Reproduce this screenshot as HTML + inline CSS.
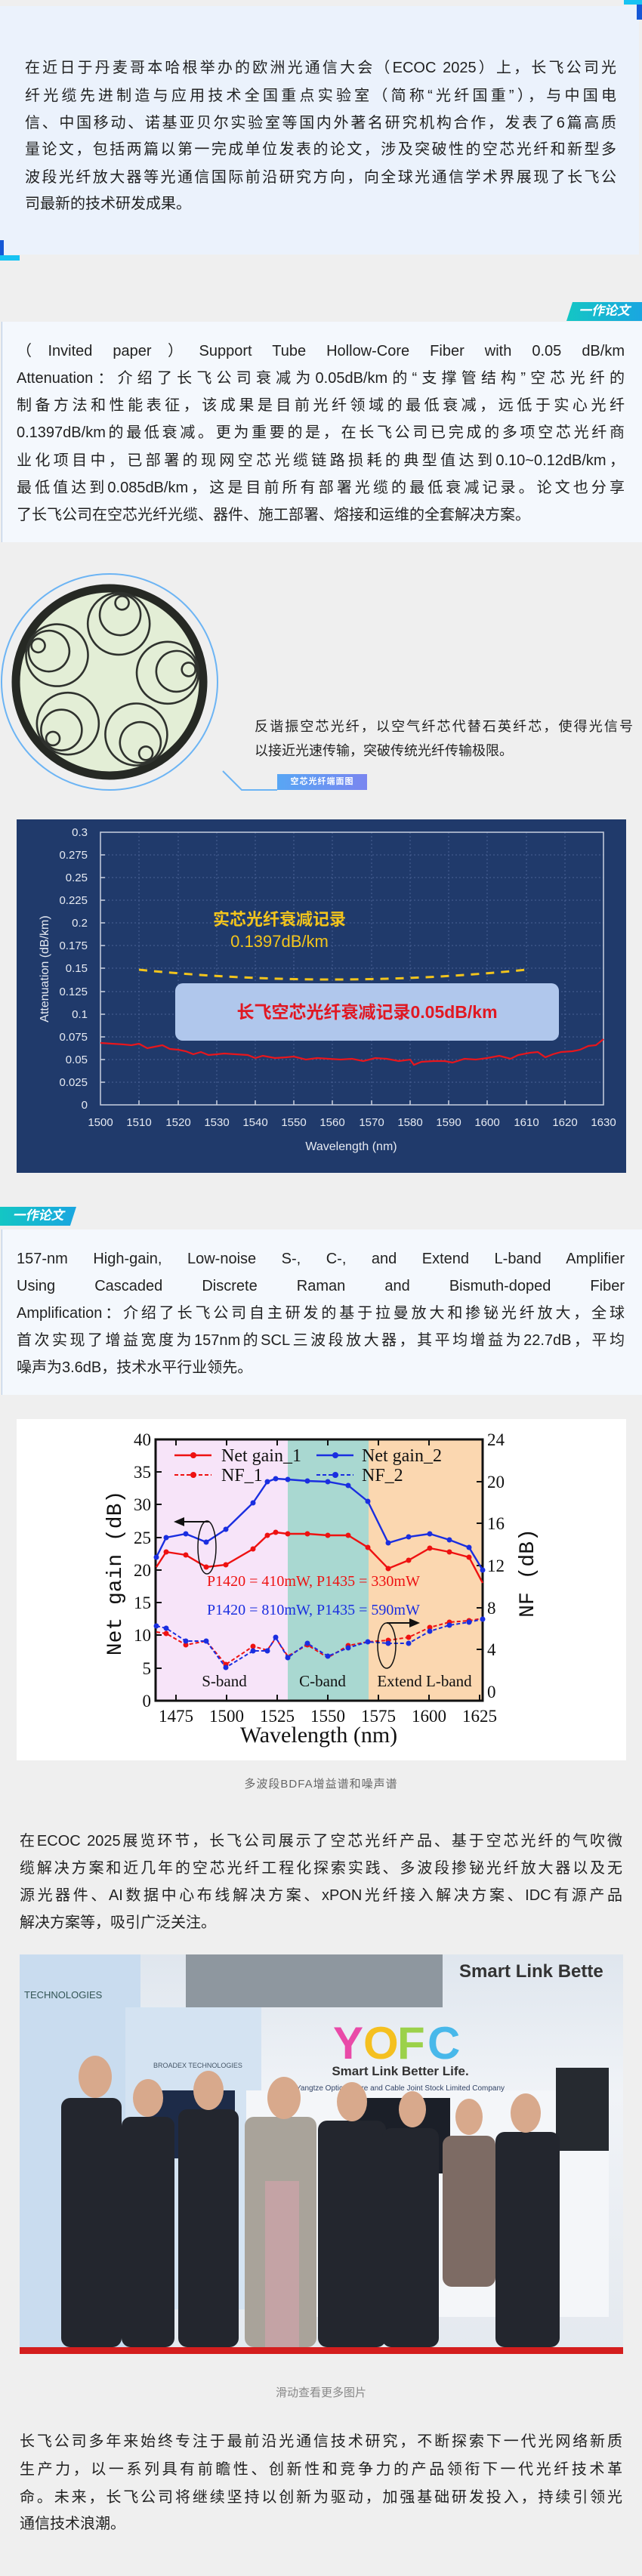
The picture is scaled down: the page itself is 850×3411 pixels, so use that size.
<!DOCTYPE html>
<html><head><meta charset="utf-8">
<style>
*{margin:0;padding:0;box-sizing:border-box}
body{width:850px;height:3411px;position:relative;background:#efefef;font-family:"Liberation Sans","Noto Sans CJK SC",sans-serif;color:#222;overflow:hidden}
.ab{position:absolute}
.ln{position:absolute;font-size:20px;line-height:28px;height:28px;text-align:justify;text-align-last:justify;white-space:nowrap;overflow:visible}
.ln.l{text-align-last:left}
.badge{position:absolute;color:#fff;font-weight:bold;font-style:italic;font-size:17px;line-height:24px;text-align:center}
</style></head><body>

<!-- section 1 -->
<div class="ab" style="left:0;top:8px;width:846px;height:329px;background:#ebf2fc"></div>
<div class="ab" style="left:843px;top:0;width:7px;height:26px;background:#1558d6"></div>
<div class="ab" style="left:826px;top:0;width:24px;height:6px;background:#17c3f3"></div>
<div class="ab" style="left:0;top:318px;width:5px;height:24px;background:#1558d6"></div>
<div class="ab" style="left:0;top:338px;width:26px;height:7px;background:#17c3f3"></div>
<div class="ln" style="left:33px;width:783px;top:76px">在近日于丹麦哥本哈根举办的欧洲光通信大会（ECOC 2025）上，长飞公司光</div>
<div class="ln" style="left:33px;width:783px;top:113px">纤光缆先进制造与应用技术全国重点实验室（简称“光纤国重”），与中国电</div>
<div class="ln" style="left:33px;width:783px;top:149px">信、中国移动、诺基亚贝尔实验室等国内外著名研究机构合作，发表了6篇高质</div>
<div class="ln" style="left:33px;width:783px;top:184px">量论文，包括两篇以第一完成单位发表的论文，涉及突破性的空芯光纤和新型多</div>
<div class="ln" style="left:33px;width:783px;top:221px">波段光纤放大器等光通信国际前沿研究方向，向全球光通信学术界展现了长飞公</div>
<div class="ln l" style="left:33px;width:783px;top:256px">司最新的技术研发成果。</div>

<!-- section 2 -->
<div class="badge" style="left:750px;top:400px;width:100px;height:25px;background:linear-gradient(90deg,#14c6c4,#1aa6e0);clip-path:polygon(8% 0,100% 0,100% 100%,0 100%)">一作论文</div>
<div class="ab" style="left:2px;top:426px;width:848px;height:292px;background:#f4f8fd;border-left:1px solid #b8cde8"></div>
<div class="ln" style="left:22px;width:805px;top:451px">（Invited paper）Support Tube Hollow-Core Fiber with 0.05 dB/km</div>
<div class="ln" style="left:22px;width:805px;top:487px">Attenuation：介绍了长飞公司衰减为0.05dB/km的“支撑管结构”空芯光纤的</div>
<div class="ln" style="left:22px;width:805px;top:523px">制备方法和性能表征，该成果是目前光纤领域的最低衰减，远低于实心光纤</div>
<div class="ln" style="left:22px;width:805px;top:559px">0.1397dB/km的最低衰减。更为重要的是，在长飞公司已完成的多项空芯光纤商</div>
<div class="ln" style="left:22px;width:805px;top:596px">业化项目中，已部署的现网空芯光缆链路损耗的典型值达到0.10~0.12dB/km，</div>
<div class="ln" style="left:22px;width:805px;top:632px">最低值达到0.085dB/km，这是目前所有部署光缆的最低衰减记录。论文也分享</div>
<div class="ln l" style="left:22px;width:805px;top:668px">了长飞公司在空芯光纤光缆、器件、施工部署、熔接和运维的全套解决方案。</div>

<!-- fiber image -->
<svg class="ab" style="left:0;top:740px" width="850" height="320" viewBox="0 740 850 320">
 <circle cx="145" cy="903" r="143" fill="none" stroke="#6cb4f4" stroke-width="2"/>
 <circle cx="145" cy="903" r="124" fill="#e3eed6" stroke="#262924" stroke-width="11"/>
 <g fill="none" stroke="#2f322e" stroke-width="2.6">
  <g transform="translate(145,903) rotate(-81)">
   <circle cx="78" cy="0" r="41"/><circle cx="90" cy="0" r="27"/><circle cx="106" cy="0" r="9"/>
  </g>
  <g transform="translate(145,903) rotate(-9)">
   <circle cx="78" cy="0" r="41"/><circle cx="90" cy="0" r="27"/><circle cx="106" cy="0" r="9"/>
  </g>
  <g transform="translate(145,903) rotate(63)">
   <circle cx="78" cy="0" r="41"/><circle cx="90" cy="0" r="27"/><circle cx="106" cy="0" r="9"/>
  </g>
  <g transform="translate(145,903) rotate(135)">
   <circle cx="78" cy="0" r="41"/><circle cx="90" cy="0" r="27"/><circle cx="106" cy="0" r="9"/>
  </g>
  <g transform="translate(145,903) rotate(207)">
   <circle cx="78" cy="0" r="41"/><circle cx="90" cy="0" r="27"/><circle cx="106" cy="0" r="9"/>
  </g>
 </g>
 <polyline points="295,1021 320,1046 367,1046" fill="none" stroke="#6cb4f4" stroke-width="2"/>
</svg>
<div class="ab" style="left:337px;top:948px;width:501px;font-size:18px;line-height:28px;text-align:justify;text-align-last:justify;white-space:nowrap">反谐振空芯光纤，以空气纤芯代替石英纤芯，使得光信号</div>
<div class="ab" style="left:337px;top:980px;font-size:18px;line-height:28px;white-space:nowrap">以接近光速传输，突破传统光纤传输极限。</div>
<div class="ab" style="left:367px;top:1025px;width:119px;height:21px;background:linear-gradient(90deg,#58a6f4,#7a86f0);color:#fff;font-size:11px;line-height:21px;text-align:center;font-weight:bold;letter-spacing:1px">空芯光纤端面图</div>

<!-- chart 1 -->
<svg class="ab" style="left:0;top:1080px" width="850" height="480" viewBox="0 1080 850 480" font-family="Liberation Sans Narrow, Liberation Sans, Noto Sans CJK SC, sans-serif">
 <rect x="22" y="1085" width="807" height="468" fill="#203a6b"/>
 <g stroke="#4a6296" stroke-width="1" stroke-dasharray="2,3">
  <line x1="133" y1="1433" x2="799" y2="1433"/><line x1="133" y1="1403" x2="799" y2="1403"/><line x1="133" y1="1373" x2="799" y2="1373"/><line x1="133" y1="1343" x2="799" y2="1343"/><line x1="133" y1="1313" x2="799" y2="1313"/><line x1="133" y1="1282" x2="799" y2="1282"/><line x1="133" y1="1252" x2="799" y2="1252"/><line x1="133" y1="1222" x2="799" y2="1222"/><line x1="133" y1="1192" x2="799" y2="1192"/><line x1="133" y1="1162" x2="799" y2="1162"/><line x1="133" y1="1132" x2="799" y2="1132"/>
  <line x1="184" y1="1102" x2="184" y2="1463"/><line x1="236" y1="1102" x2="236" y2="1463"/><line x1="287" y1="1102" x2="287" y2="1463"/><line x1="338" y1="1102" x2="338" y2="1463"/><line x1="389" y1="1102" x2="389" y2="1463"/><line x1="440" y1="1102" x2="440" y2="1463"/><line x1="492" y1="1102" x2="492" y2="1463"/><line x1="543" y1="1102" x2="543" y2="1463"/><line x1="594" y1="1102" x2="594" y2="1463"/><line x1="645" y1="1102" x2="645" y2="1463"/><line x1="697" y1="1102" x2="697" y2="1463"/><line x1="748" y1="1102" x2="748" y2="1463"/>
 </g>
 <rect x="133" y="1102" width="666" height="361" fill="none" stroke="#c8d0e0" stroke-width="1.5"/>
 <g stroke="#c8d0e0" stroke-width="1.5">
  <line x1="133" y1="1433" x2="139" y2="1433"/><line x1="133" y1="1403" x2="139" y2="1403"/><line x1="133" y1="1373" x2="139" y2="1373"/><line x1="133" y1="1343" x2="139" y2="1343"/><line x1="133" y1="1313" x2="139" y2="1313"/><line x1="133" y1="1282" x2="139" y2="1282"/><line x1="133" y1="1252" x2="139" y2="1252"/><line x1="133" y1="1222" x2="139" y2="1222"/><line x1="133" y1="1192" x2="139" y2="1192"/><line x1="133" y1="1162" x2="139" y2="1162"/><line x1="133" y1="1132" x2="139" y2="1132"/>
  <line x1="184" y1="1463" x2="184" y2="1457"/><line x1="236" y1="1463" x2="236" y2="1457"/><line x1="287" y1="1463" x2="287" y2="1457"/><line x1="338" y1="1463" x2="338" y2="1457"/><line x1="389" y1="1463" x2="389" y2="1457"/><line x1="440" y1="1463" x2="440" y2="1457"/><line x1="492" y1="1463" x2="492" y2="1457"/><line x1="543" y1="1463" x2="543" y2="1457"/><line x1="594" y1="1463" x2="594" y2="1457"/><line x1="645" y1="1463" x2="645" y2="1457"/><line x1="697" y1="1463" x2="697" y2="1457"/><line x1="748" y1="1463" x2="748" y2="1457"/>
 </g>
 <g fill="#e6eaf2" font-size="15" text-anchor="end">
  <text x="116" y="1468">0</text><text x="116" y="1438">0.025</text><text x="116" y="1408">0.05</text><text x="116" y="1378">0.075</text><text x="116" y="1348">0.1</text><text x="116" y="1318">0.125</text><text x="116" y="1287">0.15</text><text x="116" y="1257">0.175</text><text x="116" y="1227">0.2</text><text x="116" y="1197">0.225</text><text x="116" y="1167">0.25</text><text x="116" y="1137">0.275</text><text x="116" y="1107">0.3</text>
 </g>
 <g fill="#e6eaf2" font-size="15" text-anchor="middle">
  <text x="133" y="1491">1500</text><text x="184" y="1491">1510</text><text x="236" y="1491">1520</text><text x="287" y="1491">1530</text><text x="338" y="1491">1540</text><text x="389" y="1491">1550</text><text x="440" y="1491">1560</text><text x="492" y="1491">1570</text><text x="543" y="1491">1580</text><text x="594" y="1491">1590</text><text x="645" y="1491">1600</text><text x="697" y="1491">1610</text><text x="748" y="1491">1620</text><text x="799" y="1491">1630</text>
  <text x="465" y="1523" font-size="16">Wavelength (nm)</text>
  <text transform="translate(64,1283) rotate(-90)" font-size="16" font-family="Liberation Sans, sans-serif">Attenuation (dB/km)</text>
 </g>
 <path d="M184,1284 Q440,1310 697,1284" fill="none" stroke="#f2c41c" stroke-width="3" stroke-dasharray="11,9"/>
 <text x="370" y="1225" fill="#f2c41c" font-size="22" text-anchor="middle" font-weight="bold">实芯光纤衰减记录</text>
 <text x="370" y="1254" fill="#f2c41c" font-size="22" text-anchor="middle">0.1397dB/km</text>
 <rect x="232" y="1302" width="508" height="76" rx="10" fill="#b0c7ec"/>
 <text x="486" y="1348" fill="#e01822" font-size="23" text-anchor="middle" font-weight="bold">长飞空芯光纤衰减记录0.05dB/km</text>
 <polyline fill="none" stroke="#e8161c" stroke-width="2.2" points="133,1381 148,1382 164,1383 174,1384 184,1382 195,1388 205,1386 215,1384 225,1389 236,1390 246,1392 256,1396 266,1393 276,1397 287,1396 297,1395 312,1396 328,1397 338,1401 348,1398 364,1401 379,1400 389,1399 405,1403 420,1401 435,1402 451,1403 466,1402 481,1405 497,1401 512,1402 528,1405 543,1403 548,1410 558,1406 574,1405 589,1405 599,1407 615,1402 630,1403 645,1401 661,1398 676,1402 686,1397 702,1394 712,1393 722,1400 732,1396 743,1393 758,1392 768,1390 779,1385 789,1384 799,1376"/>
</svg>

<!-- section 3 -->
<div class="badge" style="left:0;top:1598px;width:101px;height:25px;background:linear-gradient(90deg,#14c6c4,#1aa6e0);clip-path:polygon(0 0,100% 0,92% 100%,0 100%)">一作论文</div>
<div class="ab" style="left:2px;top:1628px;width:848px;height:219px;background:#f4f8fd;border-left:1px solid #b8cde8"></div>
<div class="ln" style="left:22px;width:805px;top:1653px">157-nm High-gain, Low-noise S-, C-, and Extend L-band Amplifier</div>
<div class="ln" style="left:22px;width:805px;top:1689px">Using Cascaded Discrete Raman and Bismuth-doped Fiber</div>
<div class="ln" style="left:22px;width:805px;top:1725px">Amplification：介绍了长飞公司自主研发的基于拉曼放大和掺铋光纤放大，全球</div>
<div class="ln" style="left:22px;width:805px;top:1761px">首次实现了增益宽度为157nm的SCL三波段放大器，其平均增益为22.7dB，平均</div>
<div class="ln l" style="left:22px;width:805px;top:1797px">噪声为3.6dB，技术水平行业领先。</div>

<!-- chart 2 -->
<svg class="ab" style="left:0;top:1875px" width="850" height="460" viewBox="0 1875 850 460" font-family="Liberation Serif, serif">
 <rect x="22" y="1879" width="807" height="452" fill="#ffffff"/>
 <rect x="206" y="1906" width="175" height="346" fill="#f7e4f9"/>
 <rect x="381" y="1906" width="107" height="346" fill="#a9d8d1"/>
 <rect x="488" y="1906" width="151" height="346" fill="#fbd7b0"/>
 <rect x="206" y="1906" width="433" height="346" fill="none" stroke="#111" stroke-width="3"/>
 <g stroke="#111" stroke-width="2">
  <line x1="233" y1="2252" x2="233" y2="2244"/><line x1="300" y1="2252" x2="300" y2="2244"/><line x1="367" y1="2252" x2="367" y2="2244"/><line x1="434" y1="2252" x2="434" y2="2244"/><line x1="501" y1="2252" x2="501" y2="2244"/><line x1="568" y1="2252" x2="568" y2="2244"/><line x1="635" y1="2252" x2="635" y2="2244"/>
  <line x1="233" y1="1906" x2="233" y2="1914"/><line x1="300" y1="1906" x2="300" y2="1914"/><line x1="367" y1="1906" x2="367" y2="1914"/><line x1="434" y1="1906" x2="434" y2="1914"/><line x1="501" y1="1906" x2="501" y2="1914"/><line x1="568" y1="1906" x2="568" y2="1914"/>
  <line x1="206" y1="2209" x2="214" y2="2209"/><line x1="206" y1="2165" x2="214" y2="2165"/><line x1="206" y1="2122" x2="214" y2="2122"/><line x1="206" y1="2079" x2="214" y2="2079"/><line x1="206" y1="2036" x2="214" y2="2036"/><line x1="206" y1="1992" x2="214" y2="1992"/><line x1="206" y1="1949" x2="214" y2="1949"/>
  <line x1="639" y1="2184" x2="631" y2="2184"/><line x1="639" y1="2129" x2="631" y2="2129"/><line x1="639" y1="2073" x2="631" y2="2073"/><line x1="639" y1="2017" x2="631" y2="2017"/><line x1="639" y1="1962" x2="631" y2="1962"/>
 </g>
 <g font-size="23" fill="#111" text-anchor="end">
  <text x="200" y="2260">0</text><text x="200" y="2217">5</text><text x="200" y="2173">10</text><text x="200" y="2130">15</text><text x="200" y="2087">20</text><text x="200" y="2044">25</text><text x="200" y="2000">30</text><text x="200" y="1957">35</text><text x="200" y="1914">40</text>
 </g>
 <g font-size="23" fill="#111">
  <text x="645" y="2248">0</text><text x="645" y="2192">4</text><text x="645" y="2137">8</text><text x="645" y="2081">12</text><text x="645" y="2025">16</text><text x="645" y="1970">20</text><text x="645" y="1914">24</text>
 </g>
 <g font-size="23" fill="#111" text-anchor="middle">
  <text x="233" y="2280">1475</text><text x="300" y="2280">1500</text><text x="367" y="2280">1525</text><text x="434" y="2280">1550</text><text x="501" y="2280">1575</text><text x="568" y="2280">1600</text><text x="635" y="2280">1625</text>
  <text x="422" y="2307" font-size="30">Wavelength (nm)</text>
  <text transform="translate(160,2083) rotate(-90)" font-size="28" font-family="Liberation Mono, monospace">Net gain (dB)</text>
  <text transform="translate(706,2083) rotate(-90)" font-size="28" font-family="Liberation Mono, monospace">NF (dB)</text>
 </g>
 <g fill="none" stroke-width="2" stroke-dasharray="5,3">
  <polyline stroke="#e11" points="207,2161 220,2163 246,2178 273,2173 299,2204 335,2180 354,2185 365,2169 381,2193 407,2178 434,2195 461,2179 487,2174 514,2172 541,2168 569,2155 595,2148 621,2146 639,2143"/>
  <polyline stroke="#1a2ee0" points="207,2153 220,2156 246,2173 273,2173 299,2208 335,2186 354,2186 365,2168 381,2195 407,2176 434,2193 461,2182 487,2174 514,2176 541,2176 569,2160 595,2152 621,2148 639,2144"/>
 </g>
 <g fill="none" stroke-width="2.4">
  <polyline stroke="#e11" points="207,2075 220,2055 246,2059 273,2075 299,2072 335,2051 354,2033 365,2029 381,2031 407,2031 434,2033 461,2033 487,2049 514,2077 541,2066 569,2050 595,2055 621,2062 639,2096"/>
  <polyline stroke="#1a2ee0" points="207,2062 220,2036 246,2031 273,2042 299,2025 335,1990 354,1962 365,1958 381,1959 407,1961 434,1962 461,1967 487,1988 514,2043 541,2035 569,2031 595,2039 621,2049 639,2079"/>
 </g>
 <g fill="#e11">
  <circle cx="220" cy="2055" r="3.5"/><circle cx="246" cy="2059" r="3.5"/><circle cx="273" cy="2075" r="3.5"/><circle cx="299" cy="2072" r="3.5"/><circle cx="335" cy="2051" r="3.5"/><circle cx="354" cy="2033" r="3.5"/><circle cx="365" cy="2029" r="3.5"/><circle cx="381" cy="2031" r="3.5"/><circle cx="407" cy="2031" r="3.5"/><circle cx="434" cy="2033" r="3.5"/><circle cx="461" cy="2033" r="3.5"/><circle cx="487" cy="2049" r="3.5"/><circle cx="514" cy="2077" r="3.5"/><circle cx="541" cy="2066" r="3.5"/><circle cx="569" cy="2050" r="3.5"/><circle cx="595" cy="2055" r="3.5"/><circle cx="621" cy="2062" r="3.5"/>
  <circle cx="220" cy="2163" r="3.5"/><circle cx="246" cy="2178" r="3.5"/><circle cx="299" cy="2204" r="3.5"/><circle cx="335" cy="2180" r="3.5"/><circle cx="407" cy="2178" r="3.5"/><circle cx="461" cy="2179" r="3.5"/><circle cx="514" cy="2172" r="3.5"/><circle cx="541" cy="2168" r="3.5"/><circle cx="569" cy="2155" r="3.5"/><circle cx="595" cy="2148" r="3.5"/><circle cx="621" cy="2146" r="3.5"/>
 </g>
 <g fill="#1a2ee0">
  <circle cx="207" cy="2062" r="3.5"/><circle cx="220" cy="2036" r="3.5"/><circle cx="246" cy="2031" r="3.5"/><circle cx="273" cy="2042" r="3.5"/><circle cx="299" cy="2025" r="3.5"/><circle cx="335" cy="1990" r="3.5"/><circle cx="354" cy="1962" r="3.5"/><circle cx="365" cy="1958" r="3.5"/><circle cx="381" cy="1959" r="3.5"/><circle cx="407" cy="1961" r="3.5"/><circle cx="434" cy="1962" r="3.5"/><circle cx="461" cy="1967" r="3.5"/><circle cx="487" cy="1988" r="3.5"/><circle cx="514" cy="2043" r="3.5"/><circle cx="541" cy="2035" r="3.5"/><circle cx="569" cy="2031" r="3.5"/><circle cx="595" cy="2039" r="3.5"/><circle cx="621" cy="2049" r="3.5"/><circle cx="639" cy="2079" r="3.5"/>
  <circle cx="207" cy="2153" r="3.5"/><circle cx="220" cy="2156" r="3.5"/><circle cx="246" cy="2173" r="3.5"/><circle cx="273" cy="2173" r="3.5"/><circle cx="299" cy="2208" r="3.5"/><circle cx="335" cy="2186" r="3.5"/><circle cx="354" cy="2186" r="3.5"/><circle cx="365" cy="2168" r="3.5"/><circle cx="381" cy="2195" r="3.5"/><circle cx="407" cy="2176" r="3.5"/><circle cx="434" cy="2193" r="3.5"/><circle cx="461" cy="2182" r="3.5"/><circle cx="487" cy="2174" r="3.5"/><circle cx="514" cy="2176" r="3.5"/><circle cx="541" cy="2176" r="3.5"/><circle cx="569" cy="2160" r="3.5"/><circle cx="595" cy="2152" r="3.5"/><circle cx="621" cy="2148" r="3.5"/><circle cx="639" cy="2144" r="3.5"/>
 </g>
 <line x1="231" y1="1927" x2="280" y2="1927" stroke="#e11" stroke-width="2.4"/><circle cx="256" cy="1927" r="4" fill="#e11"/>
 <line x1="419" y1="1927" x2="468" y2="1927" stroke="#1a2ee0" stroke-width="2.4"/><circle cx="444" cy="1927" r="4" fill="#1a2ee0"/>
 <line x1="231" y1="1953" x2="280" y2="1953" stroke="#e11" stroke-width="2" stroke-dasharray="5,3"/><circle cx="256" cy="1953" r="4" fill="#e11"/>
 <line x1="419" y1="1953" x2="468" y2="1953" stroke="#1a2ee0" stroke-width="2" stroke-dasharray="5,3"/><circle cx="444" cy="1953" r="4" fill="#1a2ee0"/>
 <g font-size="24" fill="#111">
  <text x="293" y="1935">Net gain_1</text><text x="479" y="1935">Net gain_2</text>
  <text x="293" y="1961">NF_1</text><text x="479" y="1961">NF_2</text>
 </g>
 <text x="274" y="2100" font-size="20" fill="#e11">P1420 = 410mW, P1435 = 330mW</text>
 <text x="274" y="2138" font-size="20" fill="#1a2ee0">P1420 = 810mW, P1435 = 590mW</text>
 <g font-size="21" fill="#111" text-anchor="middle">
  <text x="297" y="2233">S-band</text><text x="427" y="2233">C-band</text><text x="562" y="2233">Extend L-band</text>
 </g>
 <ellipse cx="274" cy="2049" rx="12" ry="35" fill="none" stroke="#111" stroke-width="1.5"/>
 <line x1="277" y1="2015" x2="240" y2="2015" stroke="#111" stroke-width="2"/><polygon points="230,2015 244,2009 244,2021" fill="#111"/>
 <ellipse cx="512" cy="2179" rx="12" ry="30" fill="none" stroke="#111" stroke-width="1.5"/>
 <line x1="512" y1="2149" x2="545" y2="2149" stroke="#111" stroke-width="2"/><polygon points="556,2149 542,2143 542,2155" fill="#111"/>
</svg>
<div class="ab" style="left:0;width:850px;top:2351px;text-align:center;font-size:15px;color:#666;letter-spacing:1px">多波段BDFA增益谱和噪声谱</div>

<!-- section 4 -->
<div class="ln" style="left:26px;width:798px;top:2424px">在ECOC 2025展览环节，长飞公司展示了空芯光纤产品、基于空芯光纤的气吹微</div>
<div class="ln" style="left:26px;width:798px;top:2460px">缆解决方案和近几年的空芯光纤工程化探索实践、多波段掺铋光纤放大器以及无</div>
<div class="ln" style="left:26px;width:798px;top:2496px">源光器件、AI数据中心布线解决方案、xPON光纤接入解决方案、IDC有源产品</div>
<div class="ln l" style="left:26px;width:798px;top:2532px">解决方案等，吸引广泛关注。</div>

<!-- photo -->
<svg class="ab" style="left:26px;top:2588px" width="799" height="529" viewBox="0 0 799 529" font-family="Liberation Sans, sans-serif">
 <defs><linearGradient id="bg" x1="0" y1="0" x2="0" y2="1"><stop offset="0" stop-color="#dfe6ee"/><stop offset="0.35" stop-color="#f0f3f7"/><stop offset="1" stop-color="#e4e9ef"/></linearGradient></defs>
 <rect width="799" height="529" fill="url(#bg)"/>
 <rect x="0" y="0" width="160" height="529" fill="#c9dcef"/>
 <rect x="140" y="70" width="180" height="400" fill="#d4e3f2"/>
 <rect x="220" y="0" width="340" height="70" fill="#8e979f"/>
 <rect x="300" y="180" width="480" height="300" fill="#f4f6f9"/>
 <text x="582" y="30" font-size="24" font-weight="bold" fill="#333">Smart Link Bette</text>
 <text x="6" y="58" font-size="13" fill="#355">TECHNOLOGIES</text>
 <text x="177" y="150" font-size="9" fill="#456">BROADEX TECHNOLOGIES</text>
 <text x="415" y="138" font-size="60" font-weight="bold" fill="#e94aa8">Y</text>
 <text x="455" y="138" font-size="60" font-weight="bold" fill="#f5c020">O</text>
 <text x="500" y="138" font-size="60" font-weight="bold" fill="#9bd14a">F</text>
 <text x="540" y="138" font-size="60" font-weight="bold" fill="#48b8ea">C</text>
 <text x="504" y="160" font-size="17" font-weight="bold" fill="#333" text-anchor="middle">Smart Link Better Life.</text>
 <text x="504" y="180" font-size="10" fill="#346" text-anchor="middle">Yangtze Optical Fibre and Cable Joint Stock Limited Company</text>
 <rect x="170" y="180" width="115" height="90" fill="#1d2b48"/>
 <rect x="440" y="190" width="130" height="100" fill="#1b1f28"/>
 <rect x="710" y="150" width="70" height="110" fill="#262a30"/>
 <g fill="#23262e">
  <rect x="55" y="190" width="80" height="330" rx="12"/>
  <rect x="135" y="215" width="70" height="305" rx="12"/>
  <rect x="210" y="205" width="80" height="315" rx="12"/>
  <rect x="395" y="220" width="90" height="300" rx="12"/>
  <rect x="480" y="230" width="75" height="290" rx="12"/>
  <rect x="630" y="235" width="85" height="285" rx="12"/>
 </g>
 <rect x="298" y="215" width="95" height="305" rx="12" fill="#a9a39a"/>
 <rect x="325" y="300" width="45" height="220" fill="#c4a3a5"/>
 <rect x="560" y="240" width="70" height="200" rx="12" fill="#7d6b64"/>
 <g fill="#d8a98c">
  <ellipse cx="100" cy="162" rx="22" ry="28"/><ellipse cx="170" cy="190" rx="20" ry="25"/><ellipse cx="250" cy="180" rx="20" ry="26"/>
  <ellipse cx="350" cy="190" rx="22" ry="28"/><ellipse cx="440" cy="195" rx="20" ry="26"/><ellipse cx="520" cy="205" rx="18" ry="24"/>
  <ellipse cx="595" cy="215" rx="18" ry="24"/><ellipse cx="670" cy="210" rx="20" ry="26"/>
 </g>
 <rect x="0" y="520" width="799" height="9" fill="#d41e1e"/>
</svg>
<div class="ab" style="left:0;width:850px;top:3157px;text-align:center;font-size:15px;color:#888">滑动查看更多图片</div>

<!-- section 5 -->
<div class="ln" style="left:26px;width:798px;top:3219px">长飞公司多年来始终专注于最前沿光通信技术研究，不断探索下一代光网络新质</div>
<div class="ln" style="left:26px;width:798px;top:3256px">生产力，以一系列具有前瞻性、创新性和竞争力的产品领衔下一代光纤技术革</div>
<div class="ln" style="left:26px;width:798px;top:3293px">命。未来，长飞公司将继续坚持以创新为驱动，加强基础研发投入，持续引领光</div>
<div class="ln l" style="left:26px;width:798px;top:3328px">通信技术浪潮。</div>
</body></html>
